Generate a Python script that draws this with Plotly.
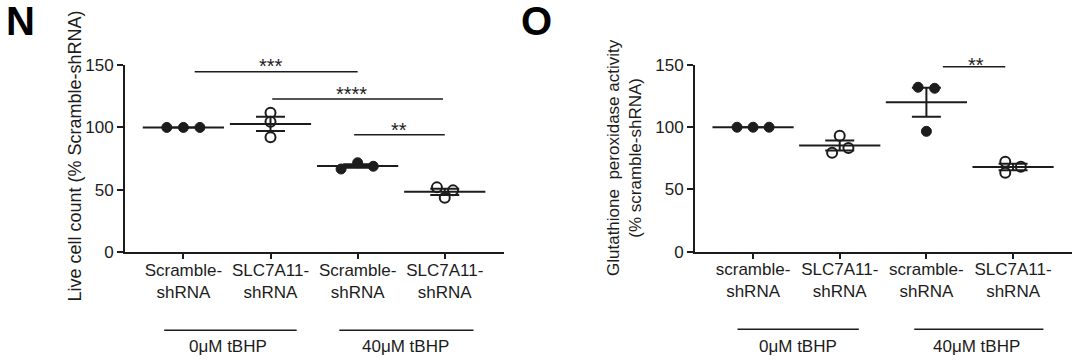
import numpy as np
import plotly.graph_objects as go

# ---------------- data ----------------
cats_N = ["Scramble-<br>shRNA", "SLC7A11-<br>shRNA", "Scramble-<br>shRNA", "SLC7A11-<br>shRNA"]
cats_O = ["scramble-<br>shRNA", "SLC7A11-<br>shRNA", "scramble-<br>shRNA", "SLC7A11-<br>shRNA"]

live_scr_0 = [100.0, 100.0, 100.0]
live_slc_0 = [111.8, 104.6, 92.1]
live_scr_40 = [66.7, 71.7, 68.9]
live_slc_40 = [52.0, 43.7, 49.6]

gpx_scr_0 = [100.0, 100.0, 100.0]
gpx_slc_0 = [93.2, 79.5, 83.3]
gpx_scr_40 = [132.1, 131.3, 96.7]
gpx_slc_40 = [72.3, 63.5, 68.3]

dose_labels = ["0\u03bcM tBHP", "40\u03bcM tBHP"]
y_ticks = [0, 50, 100, 150]

# significance: (from, to, bar level, stars, star x, star level)
sig_N = [(0.13, 2.0, 144.6, "***", 1.0, 153),
         (1.02, 2.98, 122.7, "****", 1.93, 130.7),
         (1.96, 3.0, 94.2, "**", 2.47, 102)]
sig_O = [(2.19, 2.91, 148.6, "**", 2.57, 154)]

# ---------------- styling (positions of jittered points, not data) ----------------
jit_N = [[-0.19, 0, 0.19], [0, 0, 0], [-0.19, 0, 0.18], [-0.09, 0, 0.095]]
jit_O = [[-0.185, 0, 0.185], [0, -0.088, 0.10], [-0.096, 0.095, 0], [-0.09, -0.09, 0.09]]
filled = [True, False, True, False]

INK = "#1c1c1c"
FONT = "Liberation Sans, Arial, sans-serif"
PX_PER_UNIT = 187.3 / 150

fig = go.Figure()


def add_panel(groups, jit, xa, ya):
    for i, (vals, j) in enumerate(zip(groups, jit)):
        fig.add_trace(go.Scatter(
            x=[i + d for d in j], y=vals, mode="markers", xaxis=xa, yaxis=ya,
            showlegend=False, cliponaxis=False, hoverinfo="skip",
            marker=dict(size=10, symbol="circle",
                        color=INK if filled[i] else "white",
                        line=dict(color=INK, width=2 if not filled[i] else 1))))
    means = [float(np.mean(v)) for v in groups]
    sems = [float(np.std(v, ddof=1) / np.sqrt(len(v))) for v in groups]
    fig.add_trace(go.Scatter(
        x=list(range(len(groups))), y=means, mode="markers", xaxis=xa, yaxis=ya,
        showlegend=False, cliponaxis=False, hoverinfo="skip",
        marker=dict(symbol="line-ew", size=58, color=INK, line=dict(color=INK, width=2)),
        error_y=dict(type="data", array=sems, visible=True, width=14.5, thickness=2, color=INK)))


add_panel([live_scr_0, live_slc_0, live_scr_40, live_slc_40], jit_N, "x", "y")
add_panel([gpx_scr_0, gpx_slc_0, gpx_scr_40, gpx_slc_40], jit_O, "x2", "y2")

shapes = []
annots = []

for (xa, ya, sigs) in [("x", "y", sig_N), ("x2", "y2", sig_O)]:
    for (x0, x1, yv, st, xs, ys) in sigs:
        shapes.append(dict(type="line", xref=xa, yref=ya, x0=x0, x1=x1, y0=yv, y1=yv,
                           line=dict(color=INK, width=1.5)))
        annots.append(dict(xref=xa, yref=ya, x=xs, y=yv, text=st, showarrow=False,
                           xanchor="center", yanchor="middle",
                           font=dict(family=FONT, size=20, color=INK),
                           yshift=(ys - yv) * PX_PER_UNIT - 5))

# treatment group lines under axis
for xa, segs, yline in [("x", [(-0.22, 1.30, 0.51), (1.79, 3.33, 2.55)], 1 - 330.3 / 361),
                        ("x2", [(-0.18, 1.22, 0.52), (1.86, 3.35, 2.58)], 1 - 329.3 / 361)]:
    for (x0, x1, xc), lab in zip(segs, dose_labels):
        shapes.append(dict(type="line", xref=xa, yref="paper", x0=x0, x1=x1, y0=yline, y1=yline,
                           line=dict(color=INK, width=1.5)))
        annots.append(dict(xref=xa, yref="paper", x=xc, y=1 - 346.7 / 361, text=lab,
                           xanchor="center", yanchor="middle",
                           showarrow=False, font=dict(family=FONT, size=17, color=INK)))

# axis titles
annots.append(dict(xref="paper", yref="paper", x=74 / 1080, y=1 - 156.5 / 361,
                   xanchor="center", yanchor="middle",
                   text="Live cell count (% Scramble-shRNA)", textangle=-90, showarrow=False,
                   font=dict(family=FONT, size=18, color=INK)))
annots.append(dict(xref="paper", yref="paper", x=624 / 1080, y=1 - 157 / 361,
                   xanchor="center", yanchor="middle",
                   text="Glutathione\u00a0 peroxidase activity<br>(% scramble-shRNA)",
                   textangle=-90, showarrow=False,
                   font=dict(family=FONT, size=17, color=INK)))

# panel letters
annots.append(dict(xref="paper", yref="paper", x=20.5 / 1080, y=1 - 21 / 361, text="<b>N</b>",
                   xanchor="center", yanchor="middle",
                   showarrow=False, font=dict(family=FONT, size=40, color="black")))
annots.append(dict(xref="paper", yref="paper", x=536 / 1080, y=1 - 21 / 361, text="<b>O</b>",
                   xanchor="center", yanchor="middle",
                   showarrow=False, font=dict(family=FONT, size=40, color="black")))

xcommon = dict(range=[-0.67, 3.68], showline=True, linewidth=2, linecolor=INK, ticks="outside",
               ticklen=5, tickwidth=2, tickcolor=INK, showgrid=False, zeroline=False,
               automargin=False, tickmode="array", tickvals=[0, 1, 2, 3],
               ticklabelstandoff=-4,
               tickfont=dict(family=FONT, size=17, color=INK))
ycommon = dict(range=[0, 150], showline=True, linewidth=2, linecolor=INK, ticks="outside",
               ticklen=6, tickwidth=2, tickcolor=INK, showgrid=False, zeroline=False,
               automargin=False, tickmode="array", tickvals=y_ticks,
               tickfont=dict(family=FONT, size=17, color=INK))

fig.update_layout(
    width=1080, height=361, margin=dict(l=0, r=0, t=0, b=0, autoexpand=False),
    paper_bgcolor="white", plot_bgcolor="white", hovermode=False,
    xaxis=dict(domain=[125 / 1080, 504 / 1080], ticktext=cats_N, anchor="y", **xcommon),
    yaxis=dict(domain=[1 - 252.3 / 361, 1 - 65 / 361], anchor="x", **ycommon),
    xaxis2=dict(domain=[695 / 1080, 1072 / 1080], ticktext=cats_O, anchor="y2", **xcommon),
    yaxis2=dict(domain=[1 - 251.7 / 361, 1 - 65 / 361], anchor="x2", **ycommon),
    shapes=shapes, annotations=annots, showlegend=False,
)

fig.write_html("out.html", config={"displayModeBar": False},
               post_script="document.body.style.margin='0';")
